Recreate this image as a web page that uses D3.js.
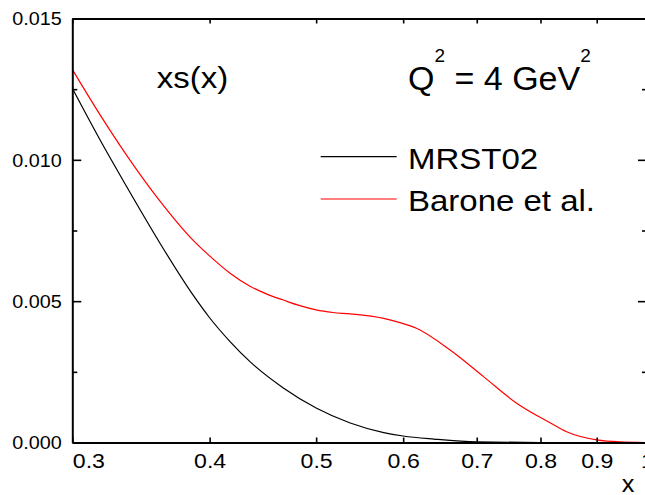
<!DOCTYPE html>
<html><head><meta charset="utf-8">
<script src="https://cdn.jsdelivr.net/npm/d3@7"></script>
<style>
body{margin:0;background:#fff}
svg{display:block}
text{font-family:"Liberation Sans",Arial,sans-serif;fill:#000}
</style>
</head><body>
<svg id="c" width="645" height="495"></svg>
<script>
const xTicks=[0.3,0.4,0.5,0.6,0.7,0.8,0.9,1];
const xTickLabels=["0.3","0.4","0.5","0.6","0.7","0.8","0.9","1"];
const yTicks=[0,0.005,0.010,0.015];
const yTickLabels=["0.000","0.005","0.010","0.015"];
const yMinorTicks=[0.0025,0.0075,0.0125];
const seriesNames=["MRST02","Barone et al."];
const seriesColors=["#000000","#ff0000"];
const mrstX=[0.300,0.318,0.3362,0.3605,0.3863,0.3995,0.4175,0.4353,0.4668,0.500,0.537,0.576,0.600,0.640,0.700,0.800,1.0];
const mrstY=[0.01253,0.01070,0.00905,0.00705,0.00522,0.00444,0.00357,0.00286,0.00193,0.00122,0.00069,0.00035,0.00023,0.00012,0.00002,0,0];
const baroneX=[0.300,0.318,0.3362,0.3605,0.3863,0.3995,0.4175,0.4353,0.451,0.4668,0.4833,0.500,0.5178,0.537,0.576,0.596,0.617,0.662,0.710,0.761,0.816,0.845,0.900,0.945,1.0];
const baroneY=[0.01320,0.01159,0.01016,0.00854,0.00716,0.00662,0.00599,0.00553,0.00525,0.00504,0.00484,0.00469,0.00460,0.00455,0.00439,0.00424,0.00404,0.00327,0.00233,0.00139,0.00070,0.00038,0.00009,0.00002,0];

const svg=d3.select("#c");
const x=d3.scaleLog().domain([0.3,1]).range([72.3,647]);
const y=d3.scaleLinear().domain([0,0.015]).range([442.5,18.5]);

function styleAxis(g,w){
  g.select(".domain").attr("stroke","#000").attr("stroke-width",w);
  g.selectAll(".tick line").attr("stroke","#000").attr("stroke-width",1.6);
}

// curves
const line=d3.line().x(d=>x(d[0])).y(d=>y(d[1])).curve(d3.curveMonotoneX);
svg.append("path").datum(d3.zip(mrstX,mrstY)).attr("d",line)
  .attr("fill","none").attr("stroke",seriesColors[0]).attr("stroke-width",1.2);
svg.append("path").datum(d3.zip(baroneX,baroneY)).attr("d",line)
  .attr("fill","none").attr("stroke",seriesColors[1]).attr("stroke-width",1.2);

// bottom axis
const gb=svg.append("g").attr("transform","translate(0,442.5)")
  .call(d3.axisBottom(x).tickValues(xTicks).tickSize(-5).tickSizeOuter(0).tickFormat((d,i)=>xTickLabels[i]));
styleAxis(gb,2);
gb.selectAll(".tick text").attr("y",0).attr("dy",null).attr("font-size",21)
  .attr("text-anchor",(d,i)=>i===0?"start":"middle")
  .attr("transform","translate(0,25.5) scale(1.1,1)");
// top axis
const gt=svg.append("g").attr("transform","translate(0,18.5)")
  .call(d3.axisTop(x).tickValues(xTicks).tickSize(-5).tickSizeOuter(0).tickFormat(""));
styleAxis(gt,2);
// left axis
const gl=svg.append("g").attr("transform","translate(72.3,0)")
  .call(d3.axisLeft(y).tickValues(yTicks).tickSize(-9).tickSizeOuter(0).tickFormat((d,i)=>yTickLabels[i]));
styleAxis(gl,2);
gl.selectAll(".tick text").attr("x",0).attr("dy","0.36em").attr("font-size",18)
  .attr("text-anchor","end").attr("transform","translate(-10.5,0) scale(1.1,1)");
const glm=svg.append("g").attr("transform","translate(72.3,0)")
  .call(d3.axisLeft(y).tickValues(yMinorTicks).tickSize(-5).tickFormat(""));
glm.select(".domain").remove();
glm.selectAll(".tick line").attr("stroke","#000").attr("stroke-width",1.6);
// right axis
const gr=svg.append("g").attr("transform","translate(647,0)")
  .call(d3.axisRight(y).tickValues(yTicks).tickSize(-9).tickSizeOuter(0).tickFormat(""));
styleAxis(gr,2);
const grm=svg.append("g").attr("transform","translate(647,0)")
  .call(d3.axisRight(y).tickValues(yMinorTicks).tickSize(-5).tickFormat(""));
grm.select(".domain").remove();
grm.selectAll(".tick line").attr("stroke","#000").attr("stroke-width",1.6);

// x axis title
svg.append("text").attr("transform","translate(628,492) scale(1.1,1)")
  .attr("text-anchor","middle").attr("font-size",23).text("x");

// annotations
svg.append("text").attr("transform","translate(156.7,88) scale(1.1,1)")
  .attr("font-size",30).text("xs(x)");
const q=svg.append("text").attr("x",408).attr("y",90).attr("font-size",34);
q.append("tspan").text("Q");
q.append("tspan").attr("font-size",19).attr("dy",-28).text("2");
q.append("tspan").attr("dy",28).text(" = 4 GeV");
q.append("tspan").attr("font-size",19).attr("dy",-28).text("2");

// legend
const legY=[156.7,199];
seriesNames.forEach((n,i)=>{
  svg.append("line").attr("x1",320.7).attr("x2",396.7).attr("y1",legY[i]).attr("y2",legY[i])
    .attr("stroke",seriesColors[i]).attr("stroke-width",1.2);
  svg.append("text").attr("transform",`translate(408,${legY[i]+11.8}) scale(1.1,1)`)
    .attr("font-size",30).text(n);
});
</script>
</body></html>
